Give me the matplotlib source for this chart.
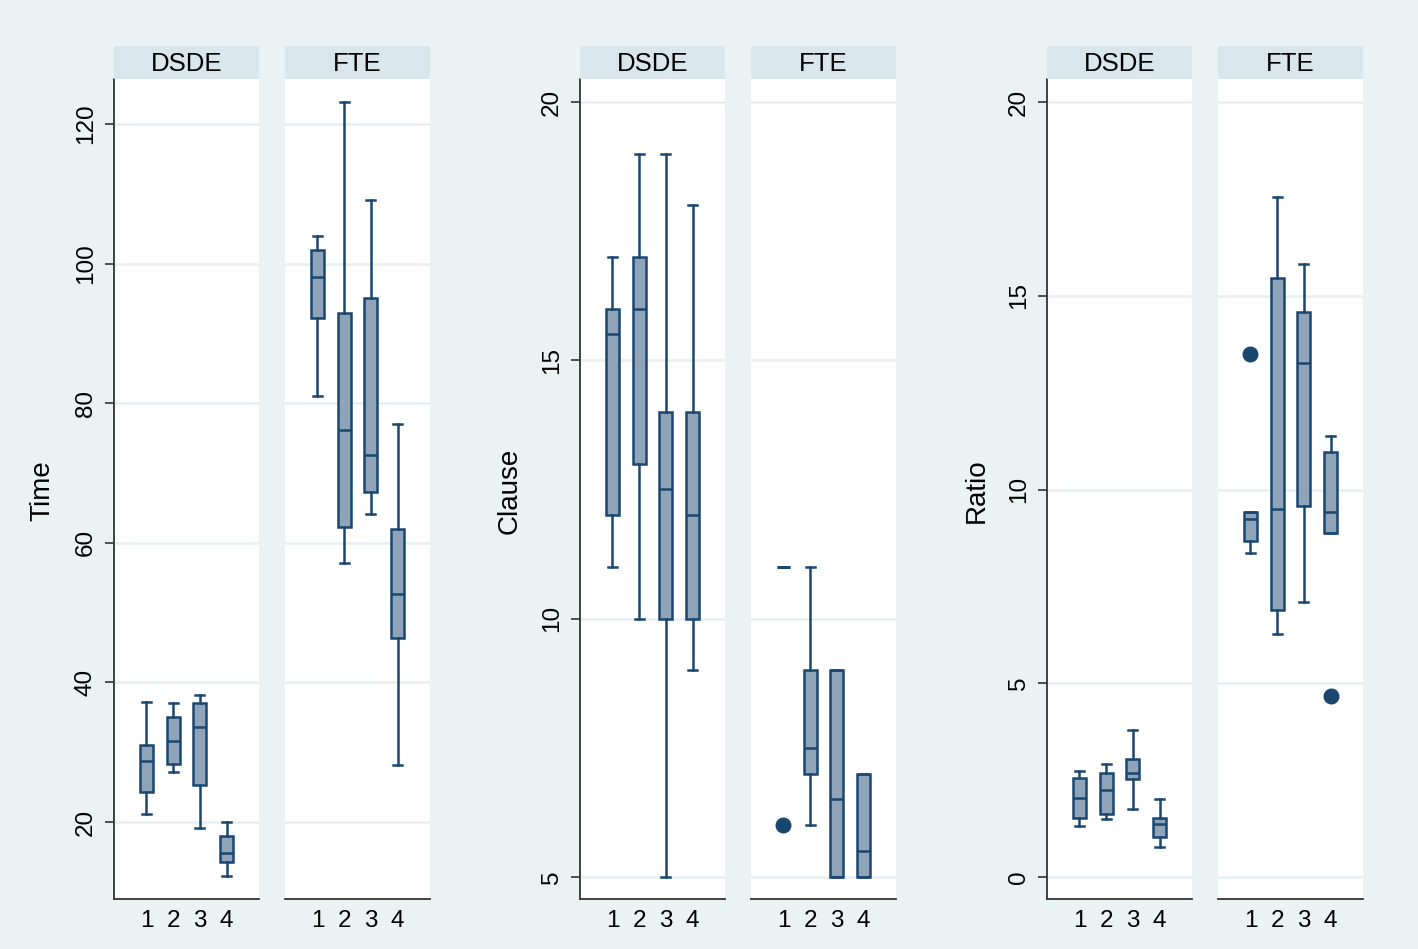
import matplotlib.pyplot as plt

plt.rcParams['font.family'] = ['Liberation Sans', 'DejaVu Sans']

# categories on the x axis
groups = [1, 2, 3, 4]
panels = ["DSDE", "FTE"]

# box stats per category: [lower whisker, q1, median, q3, upper whisker]
time_dsde = [[21.2, 24.3, 28.7, 31.1, 37.2],
             [27.2, 28.3, 31.6, 35.0, 37.1],
             [19.2, 25.3, 33.6, 37.0, 38.2],
             [12.2, 14.3, 15.6, 18.0, 20.0]]
time_fte = [[81.0, 92.2, 98.1, 102.0, 104.0],
            [57.1, 62.3, 76.2, 92.9, 123.2],
            [64.1, 67.3, 72.6, 95.1, 109.1],
            [28.2, 46.4, 52.7, 62.0, 77.0]]
time_dsde_out = [[], [], [], []]
time_fte_out = [[], [], [], []]

clause_dsde = [[11.0, 12.0, 15.5, 16.0, 17.0],
               [10.0, 13.0, 16.0, 17.0, 19.0],
               [5.0, 10.0, 12.5, 14.0, 19.0],
               [9.0, 10.0, 12.0, 14.0, 18.0]]
clause_fte = [[11.0, 11.0, 11.0, 11.0, 11.0],
              [6.0, 7.0, 7.5, 9.0, 11.0],
              [5.0, 5.0, 6.5, 9.0, 9.0],
              [5.0, 5.0, 5.5, 7.0, 7.0]]
clause_dsde_out = [[], [], [], []]
clause_fte_out = [[6.0], [], [], []]

ratio_dsde = [[1.32, 1.53, 2.04, 2.56, 2.74],
              [1.49, 1.62, 2.24, 2.68, 2.92],
              [1.75, 2.53, 2.68, 3.05, 3.79],
              [0.78, 1.03, 1.38, 1.53, 2.00]]
ratio_fte = [[8.35, 8.66, 9.23, 9.43, 9.43],
             [6.28, 6.90, 9.49, 15.46, 17.55],
             [7.10, 9.58, 13.26, 14.57, 15.82],
             [8.87, 8.87, 9.41, 10.98, 11.39]]
ratio_dsde_out = [[], [], [], []]
ratio_fte_out = [[13.49], [], [], [4.66]]

NAVY = '#1a476f'
FILL = '#90a4b9'
BG = '#eaf2f3'
STRIP = '#d9e6eb'
GRID = '#e8eff2'
AXC = '#333333'

W, H = 1418, 949
fig = plt.figure(figsize=(W / 100, H / 100), dpi=100, facecolor=BG)


def px_axes(x0, y0, x1, y1):
    return fig.add_axes([x0 / W, 1 - y1 / H, (x1 - x0) / W, (y1 - y0) / H])


def draw_panel(ax, stats, outl, ylim, ticks, left):
    st = []
    for s, o in zip(stats, outl):
        st.append(dict(whislo=s[0], q1=s[1], med=s[2], q3=s[3], whishi=s[4], fliers=o))
    ax.bxp(st, positions=groups, widths=0.49, capwidths=0.33, patch_artist=True,
           showfliers=True,
           boxprops=dict(facecolor=FILL, edgecolor=NAVY, linewidth=1.8),
           whiskerprops=dict(color=NAVY, linewidth=1.8),
           capprops=dict(color=NAVY, linewidth=1.8),
           medianprops=dict(color=NAVY, linewidth=1.8),
           flierprops=dict(marker='o', markerfacecolor=NAVY, markeredgecolor=NAVY, markersize=10.5))
    ax.set_xlim(-0.215, 5.215)
    ax.set_ylim(*ylim)
    ax.set_yticks(ticks)
    ax.yaxis.grid(True, color=GRID, linewidth=1.8)
    ax.set_axisbelow(True)
    ax.set_xticks(groups)
    ax.set_xticklabels([str(g) for g in groups], fontsize=17.5)
    ax.tick_params(axis='x', length=0, pad=8)
    for sp in ['top', 'right']:
        ax.spines[sp].set_visible(False)
    ax.spines['bottom'].set_color(AXC)
    ax.spines['bottom'].set_linewidth(1.3)
    if left:
        ax.spines['left'].set_color(AXC)
        ax.spines['left'].set_linewidth(1.3)
        ax.tick_params(axis='y', direction='out', length=6.5, width=1.2, color=AXC,
                       labelsize=17.5, labelrotation=90, pad=6)
        for t in ax.get_yticklabels():
            t.set_va('center')
    else:
        ax.spines['left'].set_visible(False)
        ax.tick_params(axis='y', length=0, labelleft=False)


def draw_strip(x0, x1, title):
    sax = px_axes(x0, 46, x1, 79)
    sax.set_facecolor(STRIP)
    for sp in sax.spines.values():
        sp.set_visible(False)
    sax.set_xticks([])
    sax.set_yticks([])
    sax.text(0.5, 0.44, title, ha='center', va='center', fontsize=18.5, transform=sax.transAxes)


measures = [
    ("Time", time_dsde, time_fte, time_dsde_out, time_fte_out, (8.97, 126.45), [20, 40, 60, 80, 100, 120], 114, 42),
    ("Clause", clause_dsde, clause_fte, clause_dsde_out, clause_fte_out, (4.574, 20.445), [5, 10, 15, 20], 580, 510),
    ("Ratio", ratio_dsde, ratio_fte, ratio_dsde_out, ratio_fte_out, (-0.568, 20.594), [0, 5, 10, 15, 20], 1047, 977),
]

for name, d_stats, f_stats, d_out, f_out, ylim, ticks, x0, lab_x in measures:
    ax1 = px_axes(x0, 79, x0 + 145, 899)
    draw_panel(ax1, d_stats, d_out, ylim, ticks, True)
    draw_strip(x0, x0 + 145, panels[0])
    ax2 = px_axes(x0 + 171, 79, x0 + 316, 899)
    draw_panel(ax2, f_stats, f_out, ylim, ticks, False)
    draw_strip(x0 + 171, x0 + 316, panels[1])
    fig.text(lab_x / W, 1 - 491 / H, name, rotation=90, ha='center', va='center', fontsize=20)

fig.savefig('out.png', dpi=100, facecolor=BG)
